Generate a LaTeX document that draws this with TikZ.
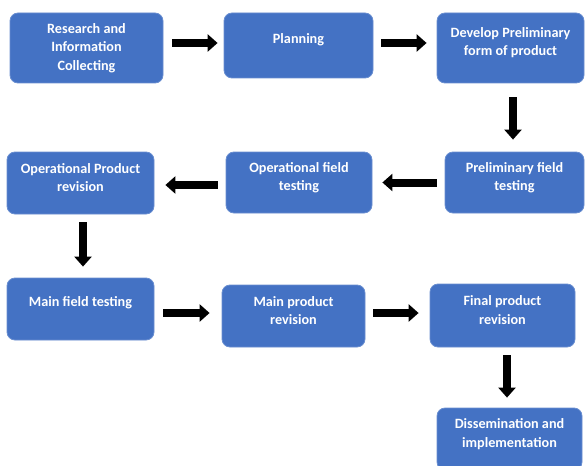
\documentclass[tikz,border=0pt]{standalone}
\usepackage{fontspec}
\setmainfont{Carlito}
\usetikzlibrary{arrows.meta}
\definecolor{box_blue}{HTML}{4472C4}

\begin{document}
\begin{tikzpicture}[x=1pt, y=-1pt,
	box/.style={fill=box_blue, draw=box_blue!80!white, line width=0.8pt, rounded corners=8pt, inner sep=0pt},
	lbl/.style={text=white, font=\bfseries\fontsize{14.2}{18.5}\selectfont, align=center},
	blk/.style={line width=8pt, -{Triangle[length=10pt, width=17pt]}}]
	\useasboundingbox (0, 0) rectangle (585, 465);
	\node[box, minimum width=153pt, minimum height=70pt, label={[lbl]center:Research and\\Information\\Collecting}] (rsch) at (86.5, 48) {};
	\node[box, minimum width=149pt, minimum height=65pt, label={[lbl, yshift=5.5pt]center:Planning}] (plan) at (298.5, 45.5) {};
	\node[box, minimum width=147pt, minimum height=70pt, label={[lbl, yshift=5.5pt]center:Develop Preliminary\\form of product}] (dvlp) at (510.5, 48) {};
	\node[box, minimum width=139pt, minimum height=61pt, label={[lbl, yshift=5pt]center:Preliminary field\\testing}] (prlm) at (514.5, 182.5) {};
	\node[box, minimum width=146pt, minimum height=61pt, label={[lbl, yshift=5pt]center:Operational field\\testing}] (opft) at (299, 182.5) {};
	\node[box, minimum width=147pt, minimum height=62pt, label={[lbl, yshift=5.5pt]center:Operational Product\\revision}] (oppr) at (80.5, 183) {};
	\node[box, minimum width=147pt, minimum height=62pt, label={[lbl, yshift=6pt]center:Main field testing}] (mnft) at (80.5, 309) {};
	\node[box, minimum width=143pt, minimum height=62pt, label={[lbl, yshift=5.5pt]center:Main product\\revision}] (mnpr) at (293.5, 316) {};
	\node[box, minimum width=145pt, minimum height=63pt, label={[lbl, yshift=5.5pt]center:Final product\\revision}] (fnpr) at (502.5, 315.5) {};
	\node[box, minimum width=145pt, minimum height=62pt, label={[lbl, yshift=5pt]center:Dissemination and\\implementation}] (dssm) at (509.5, 439) {};
	\draw[blk, shorten <=9pt, shorten >=6pt] ([yshift=5pt]rsch.east) -- ([yshift=5pt]rsch.east -| plan.west);
	\draw[blk, shorten <=8pt, shorten >=10pt] ([yshift=2.5pt]plan.east) -- ([yshift=2.5pt]plan.east -| dvlp.west);
	\draw[blk, shorten <=14pt, shorten >=12pt] ([xshift=2.5pt]dvlp.south) -- ([xshift=2.5pt]dvlp.south |- prlm.north);
	\draw[blk, shorten <=8pt, shorten >=10pt] (prlm.west) -- (prlm.west -| opft.east);
	\draw[blk, shorten <=8pt, shorten >=11pt] ([yshift=-2.5pt]opft.west) -- ([yshift=-2.5pt]opft.west -| oppr.east);
	\draw[blk, shorten <=8pt, shorten >=11pt] ([xshift=2.5pt]oppr.south) -- ([xshift=2.5pt]oppr.south |- mnft.north);
	\draw[blk, shorten <=9pt, shorten >=12pt] ([yshift=-4pt]mnft.east) -- ([yshift=-4pt]mnft.east -| mnpr.west);
	\draw[blk, shorten <=8pt, shorten >=11pt] ([yshift=3pt]mnpr.east) -- ([yshift=3pt]mnpr.east -| fnpr.west);
	\draw[blk, shorten <=8pt, shorten >=10pt] ([xshift=4.5pt]fnpr.south) -- ([xshift=4.5pt]fnpr.south |- dssm.north);
\end{tikzpicture}
\end{document}
